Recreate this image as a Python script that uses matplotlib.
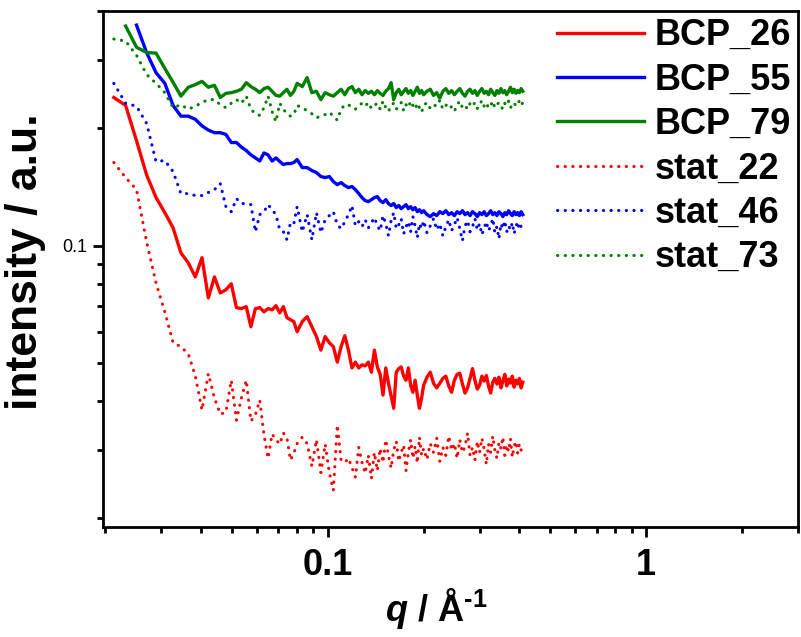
import matplotlib
matplotlib.use("Agg")
import matplotlib.pyplot as plt
from matplotlib.ticker import LogLocator, FuncFormatter, NullFormatter

plt.rcParams['font.family'] = ['Liberation Sans', 'DejaVu Sans']
plt.rcParams['mathtext.fontset'] = 'custom'
plt.rcParams['mathtext.rm'] = 'Liberation Sans:bold'
plt.rcParams['mathtext.it'] = 'Liberation Sans:italic:bold'
plt.rcParams['mathtext.bf'] = 'Liberation Sans:bold'

# q grid (1/A)
q = [0.0213, 0.0232, 0.0251, 0.0270, 0.0289, 0.0308, 0.0327, 0.0346, 0.0365, 0.0384,
     0.0403, 0.0422, 0.0441, 0.0460, 0.0479, 0.0498, 0.0517, 0.0536, 0.0555, 0.0574,
     0.0593, 0.0612, 0.0631, 0.0650, 0.0669, 0.0688, 0.0707, 0.0726, 0.0745, 0.0764,
     0.0783, 0.0802,
     0.0832, 0.0862, 0.0892, 0.0922, 0.0952, 0.0982, 0.1012, 0.1042, 0.1072, 0.1102,
     0.1132, 0.1162, 0.1192, 0.1222, 0.1252, 0.1282, 0.1312, 0.1342, 0.1372, 0.1402,
     0.1432, 0.1462, 0.1492, 0.1522, 0.1552, 0.1582, 0.1612, 0.1642, 0.1672, 0.1702,
     0.1732, 0.1762, 0.1792, 0.1822, 0.1852, 0.1882, 0.1912, 0.1942, 0.1972, 0.2002,
     0.205, 0.210, 0.215, 0.220, 0.225, 0.230, 0.235, 0.240, 0.245, 0.250,
     0.255, 0.260, 0.265, 0.270, 0.275, 0.280, 0.285, 0.290, 0.295, 0.300,
     0.305, 0.310, 0.315, 0.320, 0.325, 0.330, 0.335, 0.340, 0.345, 0.350,
     0.355, 0.360, 0.365, 0.370, 0.375, 0.380, 0.385, 0.390, 0.395, 0.400,
     0.405, 0.410]

bcp_26 = [0.240, 0.229, 0.186, 0.152, 0.133, 0.1216, 0.1112, 0.0959, 0.0904, 0.0832,
          0.0932, 0.0735, 0.0832, 0.0757, 0.0771, 0.0799, 0.0694, 0.0690, 0.0698, 0.0620,
          0.0690, 0.0694, 0.0677, 0.0690, 0.0685, 0.0702, 0.0673, 0.0698, 0.0654, 0.0646,
          0.0639, 0.0602, 0.0639, 0.0658, 0.0620, 0.0585, 0.0540, 0.0585, 0.0564, 0.0551,
          0.0503, 0.0551, 0.0588, 0.0540, 0.0486, 0.0503, 0.0486, 0.0495, 0.0492, 0.0503,
          0.0474, 0.0540, 0.0489, 0.0468, 0.0414, 0.0486, 0.0444, 0.0412, 0.0383, 0.0474,
          0.0484, 0.0489, 0.0463, 0.0452, 0.0486, 0.0439, 0.0421, 0.0452, 0.0414, 0.0383,
          0.0407, 0.0439, 0.0460, 0.0474, 0.0444, 0.0432, 0.0444, 0.0457, 0.0463, 0.0437,
          0.0421, 0.0452, 0.0468, 0.0471, 0.0442, 0.0419, 0.0432, 0.0457, 0.0484, 0.0452,
          0.0429, 0.0439, 0.0463, 0.0450, 0.0465, 0.0437, 0.0419, 0.0447, 0.0457, 0.0442,
          0.0460, 0.0432, 0.0450, 0.0468, 0.0437, 0.0455, 0.0444, 0.0463, 0.0434, 0.0452,
          0.0442, 0.0457, 0.0432, 0.0447]

# starts at q[2]
bcp_55 = [0.368, 0.313, 0.278, 0.261, 0.229, 0.215, 0.215, 0.211, 0.203, 0.198,
          0.195, 0.195, 0.193, 0.184, 0.184, 0.179, 0.1755, 0.171, 0.168, 0.165,
          0.173, 0.171, 0.165, 0.168, 0.1645, 0.1616, 0.1625, 0.1625, 0.1635, 0.1664,
          0.1587, 0.1587, 0.1559, 0.1541, 0.1505, 0.1496, 0.1505, 0.1461, 0.1435, 0.1452,
          0.1427, 0.1410, 0.1419, 0.1393, 0.1361, 0.1329, 0.1305, 0.1298, 0.1313, 0.1329,
          0.1337, 0.1305, 0.1290, 0.1313, 0.1283, 0.1268, 0.1283, 0.1253, 0.1268, 0.1245,
          0.1260, 0.1275, 0.1245, 0.1260, 0.1237, 0.1253, 0.1223, 0.1237, 0.1216, 0.1230,
          0.1202, 0.1188, 0.1209, 0.1195, 0.1223, 0.1209, 0.1230, 0.1202, 0.1216, 0.1195,
          0.1223, 0.1209, 0.1230, 0.1202, 0.1216, 0.1195, 0.1223, 0.1209, 0.1188, 0.1216,
          0.1202, 0.1223, 0.1195, 0.1209, 0.1230, 0.1202, 0.1216, 0.1195, 0.1223, 0.1209,
          0.1188, 0.1216, 0.1202, 0.1230, 0.1209, 0.1195, 0.1223, 0.1202, 0.1216, 0.1195,
          0.1223, 0.1202]

# starts at q[1]
bcp_79 = [0.366, 0.323, 0.313, 0.312, 0.285, 0.2625, 0.242, 0.255, 0.259, 0.264,
          0.255, 0.258, 0.240, 0.246, 0.247, 0.249, 0.252, 0.262, 0.256, 0.252,
          0.247, 0.253, 0.255, 0.249, 0.243, 0.242, 0.247, 0.252, 0.243, 0.249,
          0.261, 0.256, 0.270, 0.247, 0.249, 0.237, 0.247, 0.244, 0.242, 0.247,
          0.252, 0.244, 0.253, 0.256, 0.247, 0.252, 0.244, 0.250, 0.246, 0.249,
          0.244, 0.250, 0.246, 0.243, 0.249, 0.253, 0.262, 0.237, 0.247, 0.252,
          0.244, 0.249, 0.253, 0.246, 0.250, 0.243, 0.249, 0.255, 0.246, 0.250,
          0.244, 0.249, 0.252, 0.243, 0.247, 0.239, 0.249, 0.253, 0.246, 0.250,
          0.244, 0.249, 0.253, 0.246, 0.242, 0.249, 0.252, 0.246, 0.250, 0.243,
          0.249, 0.253, 0.246, 0.249, 0.244, 0.252, 0.247, 0.243, 0.250, 0.246,
          0.253, 0.247, 0.250, 0.244, 0.249, 0.255, 0.247, 0.252, 0.246, 0.250,
          0.247, 0.253, 0.249]

stat_22 = [0.1635, 0.1496, 0.1393, 0.1024, 0.0803, 0.0677, 0.0564, 0.0551, 0.0528, 0.0464,
           0.0379, 0.0470, 0.0407, 0.0370, 0.0374, 0.0452, 0.0357, 0.0407, 0.0452, 0.0355,
           0.0368, 0.0402, 0.0327, 0.0285, 0.0329, 0.0318, 0.0310, 0.0331, 0.0321, 0.0282,
           0.0294, 0.0311, 0.0323, 0.0311, 0.0272, 0.0318, 0.0262, 0.0310, 0.0262, 0.0236,
           0.0347, 0.0282, 0.0278, 0.0285, 0.0270, 0.0255, 0.0304, 0.0278, 0.0261, 0.0290,
           0.0253, 0.0295, 0.0265, 0.0302, 0.0278, 0.0318, 0.0290, 0.0269, 0.0299, 0.0315,
           0.0280, 0.0295, 0.0308, 0.0265, 0.0295, 0.0318, 0.0285, 0.0306, 0.0277, 0.0323,
           0.0290, 0.0302, 0.0283, 0.0311, 0.0295, 0.0321, 0.0280, 0.0304, 0.0290, 0.0325,
           0.0299, 0.0311, 0.0285, 0.0318, 0.0295, 0.0306, 0.0331, 0.0290, 0.0304, 0.0282,
           0.0315, 0.0295, 0.0321, 0.0301, 0.0275, 0.0310, 0.0295, 0.0325, 0.0299, 0.0285,
           0.0313, 0.0302, 0.0323, 0.0290, 0.0308, 0.0297, 0.0320, 0.0287, 0.0306, 0.0315,
           0.0294, 0.0310, 0.0299, 0.0304]

stat_46 = [0.261, 0.232, 0.228, 0.206, 0.1645, 0.1654, 0.1550, 0.1361, 0.1361, 0.1345,
           0.1345, 0.1370, 0.1393, 0.1443, 0.1260, 0.1223, 0.1321, 0.1283, 0.1283, 0.1275,
           0.1086, 0.1202, 0.1223, 0.1275, 0.1237, 0.1202, 0.1099, 0.1086, 0.1036, 0.1146,
           0.1139, 0.1260, 0.1086, 0.1202, 0.1036, 0.1216, 0.1080, 0.1166, 0.1195, 0.1223,
           0.1132, 0.1106, 0.1153, 0.1202, 0.1268, 0.1125, 0.1153, 0.1119, 0.1166, 0.1112,
           0.1146, 0.1181, 0.1125, 0.1093, 0.1195, 0.1139, 0.1061, 0.1159, 0.1216, 0.1106,
           0.1132, 0.1174, 0.1073, 0.1119, 0.1153, 0.1086, 0.1188, 0.1125, 0.1048, 0.1139,
           0.1106, 0.1159, 0.1080, 0.1125, 0.1174, 0.1099, 0.1139, 0.1061, 0.1119, 0.1166,
           0.1093, 0.1132, 0.1181, 0.1106, 0.1030, 0.1125, 0.1159, 0.1086, 0.1119, 0.1174,
           0.1099, 0.1139, 0.1067, 0.1112, 0.1153, 0.1093, 0.1125, 0.1174, 0.1080, 0.1119,
           0.1042, 0.1139, 0.1106, 0.1159, 0.1086, 0.1125, 0.1099, 0.1146, 0.1073, 0.1119,
           0.1153, 0.1099, 0.1125, 0.1093]

stat_73 = [0.339, 0.335, 0.308, 0.275, 0.261, 0.247, 0.226, 0.230, 0.224, 0.228,
           0.233, 0.237, 0.237, 0.230, 0.226, 0.232, 0.237, 0.232, 0.242, 0.224,
           0.218, 0.216, 0.226, 0.242, 0.221, 0.208, 0.232, 0.224, 0.218, 0.215,
           0.217, 0.229, 0.226, 0.222, 0.218, 0.213, 0.215, 0.217, 0.220, 0.215,
           0.210, 0.224, 0.230, 0.230, 0.226, 0.224, 0.229, 0.232, 0.228, 0.233,
           0.225, 0.229, 0.232, 0.224, 0.235, 0.226, 0.221, 0.229, 0.232, 0.224,
           0.228, 0.233, 0.222, 0.230, 0.226, 0.235, 0.229, 0.224, 0.232, 0.226,
           0.220, 0.229, 0.233, 0.225, 0.230, 0.228, 0.236, 0.224, 0.229, 0.232,
           0.226, 0.221, 0.230, 0.235, 0.226, 0.229, 0.224, 0.232, 0.228, 0.233,
           0.225, 0.230, 0.236, 0.228, 0.224, 0.232, 0.229, 0.235, 0.226, 0.230,
           0.233, 0.228, 0.224, 0.232, 0.229, 0.235, 0.226, 0.230, 0.233, 0.228,
           0.232, 0.235, 0.229, 0.233]

fig = plt.figure(figsize=(8.01, 6.37), dpi=100)
ax = fig.add_axes([0.1286, 0.1727, 0.8677, 0.81])

lw = 2.4
dot = (0, (0.1, 2.4))
ax.plot(q, bcp_26, color='#ff0000', lw=lw, label='BCP_26')
ax.plot(q[2:], bcp_55, color='#0000ff', lw=lw, label='BCP_55')
ax.plot(q[1:], bcp_79, color='#008000', lw=lw, label='BCP_79')
ax.plot(q, stat_22, color='#ff0000', lw=2.2, ls=dot, dash_capstyle='round', label='stat_22')
ax.plot(q, stat_46, color='#0000ff', lw=2.2, ls=dot, dash_capstyle='round', label='stat_46')
ax.plot(q, stat_73, color='#008000', lw=2.2, ls=dot, dash_capstyle='round', label='stat_73')

ax.set_xscale('log')
ax.set_yscale('log')
ax.set_xlim(0.0197, 3.0)
ax.set_ylim(0.019, 0.40)

ax.xaxis.set_major_formatter(FuncFormatter(lambda v, p: f"{v:g}"))
ax.xaxis.set_minor_formatter(NullFormatter())
ax.yaxis.set_major_locator(LogLocator(base=10))
ax.yaxis.set_minor_locator(LogLocator(base=10, subs=range(2, 10)))
ax.yaxis.set_major_formatter(FuncFormatter(lambda v, p: f"{v:g}"))
ax.yaxis.set_minor_formatter(NullFormatter())

for s in ax.spines.values():
    s.set_linewidth(2)
ax.tick_params(which='major', direction='out', length=7, width=2)
ax.tick_params(which='minor', direction='out', length=4, width=2)
ax.tick_params(axis='x', labelsize=26, pad=8)
ax.tick_params(axis='y', labelsize=13, pad=4)
for t in ax.get_xticklabels():
    t.set_fontweight('bold')

ax.set_xlabel(r'$\it{q}$ / Å$^{\text{-1}}$', fontsize=26, fontweight='bold', labelpad=2)
ax.xaxis.label.set_x(0.48)
ax.set_ylabel('intensity / a.u.', fontsize=32, fontweight='bold')
ax.yaxis.set_label_coords(-0.082, 0.515)

leg = ax.legend(loc='upper right', frameon=False, prop={'weight': 'bold', 'size': 26},
                handlelength=2.4, handletextpad=0.3, labelspacing=0.26,
                borderpad=0.1, borderaxespad=0.1)

fig.savefig('out.png', dpi=100)
